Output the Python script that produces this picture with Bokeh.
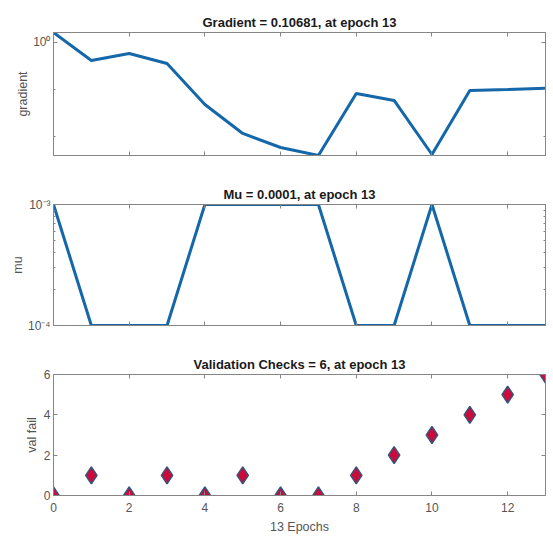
from bokeh.plotting import figure
from bokeh.layouts import column
from bokeh.models import Range1d, FixedTicker, LinearAxis, LogAxis, CustomJSTickFormatter
from bokeh.embed import file_html
from bokeh.resources import INLINE

# ---- data ----
epochs = list(range(14))
gradient = [1.63, 0.414, 0.583, 0.357, 0.048, 0.0116, 0.00583, 0.00394,
            0.0822, 0.0584, 0.00414, 0.0952, 0.100, 0.10681]
mu = [1e-3, 1e-4, 1e-4, 1e-4, 1e-3, 1e-3, 1e-3, 1e-3,
      1e-4, 1e-4, 1e-3, 1e-4, 1e-4, 1e-4]
val_fail = [0, 1, 0, 1, 0, 1, 0, 0, 1, 2, 3, 4, 5, 6]

titles = ["Gradient = 0.10681, at epoch 13",
          "Mu = 0.0001, at epoch 13",
          "Validation Checks = 6, at epoch 13"]
y_labels = ["gradient", "mu", "val fail"]
x_label = "13 Epochs"
x_ticks = [0, 2, 4, 6, 8, 10, 12]
grad_ticks = [1.0]
grad_minor = [0.1, 0.01]
mu_ticks = [1e-4, 1e-3]
mu_minor = [2e-4, 3e-4, 4e-4, 5e-4, 6e-4, 7e-4, 8e-4, 9e-4]
val_ticks = [0, 2, 4, 6]

LINE = "#1467a8"
AX = "#858585"
TXT = "#555555"
FONT = "Liberation Sans"

sup_code = """
const sup = {'-':'⁻','0':'⁰','1':'¹','2':'²','3':'³','4':'⁴','5':'⁵','6':'⁶','7':'⁷','8':'⁸','9':'⁹'};
const e = Math.round(Math.log10(tick));
return '10' + String(e).split('').map(c => sup[c]).join('');
"""


def style_axis(ax, show_labels, standoff=4):
    ax.axis_line_color = AX
    ax.major_tick_line_color = AX
    ax.minor_tick_line_color = AX
    ax.major_tick_in = 4
    ax.major_tick_out = 0
    ax.minor_tick_in = 2
    ax.minor_tick_out = 0
    ax.major_label_text_color = TXT
    ax.major_label_text_font = FONT
    ax.major_label_text_font_size = "12px"
    if show_labels:
        ax.major_label_standoff = standoff
    else:
        ax.formatter = CustomJSTickFormatter(code="return '';")
        ax.major_label_standoff = 0


def make_fig(height, top, bottom, title, ylabel, y_type, y_range, yticker, yformatter, xlabels):
    p = figure(width=553, height=height, x_range=Range1d(0, 13), y_range=y_range,
               y_axis_type=y_type, output_backend="svg", toolbar_location=None,
               min_border_left=53, min_border_right=8, min_border_top=top,
               min_border_bottom=bottom, background_fill_color="white",
               border_fill_color="white")
    p.title.text = title
    p.title.align = "center"
    p.title.text_font = FONT
    p.title.text_font_size = "13px"
    p.title.text_font_style = "bold"
    p.title.text_color = "#1a1a1a"
    p.title.standoff = 5
    p.outline_line_color = AX
    p.outline_line_alpha = 1
    p.xgrid.visible = False
    p.ygrid.visible = False

    xt = FixedTicker(ticks=x_ticks, minor_ticks=[])
    p.xaxis.ticker = xt
    style_axis(p.xaxis[0], xlabels, standoff=7)
    if xlabels:
        p.xaxis.axis_label = x_label
        p.xaxis.axis_label_text_font = FONT
        p.xaxis.axis_label_text_font_size = "12.5px"
        p.xaxis.axis_label_text_font_style = "normal"
        p.xaxis.axis_label_text_color = TXT
        p.xaxis.axis_label_standoff = 5

    p.yaxis.ticker = yticker
    style_axis(p.yaxis[0], True, standoff=3)
    if yformatter is not None:
        p.yaxis.formatter = yformatter
    p.yaxis.axis_label = ylabel
    p.yaxis.axis_label_text_font = FONT
    p.yaxis.axis_label_text_font_size = "12.5px"
    p.yaxis.axis_label_text_font_style = "normal"
    p.yaxis.axis_label_text_color = TXT
    p.yaxis.axis_label_standoff = 0 if y_type == "log" else 2

    top_ax = LinearAxis(ticker=FixedTicker(ticks=x_ticks, minor_ticks=[]))
    style_axis(top_ax, False)
    p.add_layout(top_ax, "above")
    if y_type == "log":
        right_ax = LogAxis(ticker=yticker)
    else:
        right_ax = LinearAxis(ticker=yticker)
    style_axis(right_ax, False)
    p.add_layout(right_ax, "right")
    return p


fmt1 = CustomJSTickFormatter(code=sup_code)
p1 = make_fig(170, 32, 15, titles[0], y_labels[0], "log",
              Range1d(min(gradient), max(gradient)),
              FixedTicker(ticks=grad_ticks, minor_ticks=grad_minor), fmt1, False)
p1.line(epochs, gradient, line_color=LINE, line_width=3)

fmt2 = CustomJSTickFormatter(code=sup_code)
p2 = make_fig(170, 34, 15, titles[1], y_labels[1], "log",
              Range1d(min(mu), max(mu)),
              FixedTicker(ticks=mu_ticks, minor_ticks=mu_minor), fmt2, False)
p2.line(epochs, mu, line_color=LINE, line_width=3)

p3 = make_fig(196, 34, 40, titles[2], y_labels[2], "linear",
              Range1d(0, 6),
              FixedTicker(ticks=val_ticks, minor_ticks=[]), None, True)
p3.scatter(epochs, val_fail, marker="diamond", size=17,
           fill_color="#cc0a3c", line_color="#35557a", line_width=1.5)

layout = column(p1, p2, p3, spacing=0)
open("out.html", "w", encoding="utf-8").write(file_html(layout, INLINE))
